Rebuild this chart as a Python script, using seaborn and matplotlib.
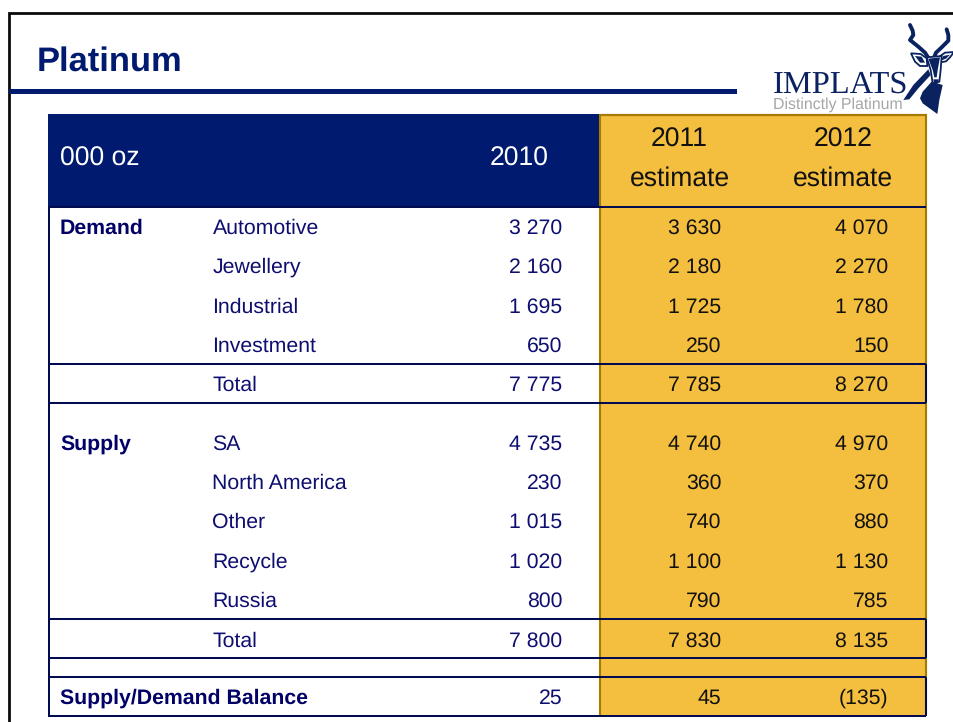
import matplotlib
matplotlib.use("Agg")
import matplotlib.pyplot as plt
from matplotlib.patches import Rectangle, Polygon
import seaborn as sns

# ---- data ----
title = "Platinum"
unit_label = "000 oz"
demand_labels = ["Automotive", "Jewellery", "Industrial", "Investment", "Total"]
demand_2010 = [3270, 2160, 1695, 650, 7775]
demand_2011 = [3630, 2180, 1725, 250, 7785]
demand_2012 = [4070, 2270, 1780, 150, 8270]
supply_labels = ["SA", "North America", "Other", "Recycle", "Russia", "Total"]
supply_2010 = [4735, 230, 1015, 1020, 800, 7800]
supply_2011 = [4740, 360, 740, 1100, 790, 7830]
supply_2012 = [4970, 370, 880, 1130, 785, 8135]
balance_label = "Supply/Demand Balance"
balance_values = [25, 45, -135]

# ---- style ----
NAVY = "#001A70"
LINE = "#000B50"
TEXT = "#0E0E70"
BOLD = "#000066"
GOLD = "#F4BE3E"
GOLD_EDGE = "#A67C00"
sns.set_theme(style="white")
plt.rcParams["font.family"] = ["Liberation Sans", "DejaVu Sans"]
plt.rcParams["text.hinting"] = "none"
plt.rcParams["text.hinting_factor"] = 8

fig = plt.figure(figsize=(9.54, 7.22), dpi=100)
ax = fig.add_axes([0, 0, 1, 1])
ax.set_xlim(0, 954)
ax.set_ylim(722, 0)
ax.axis("off")
sns.despine(ax=ax, left=True, bottom=True)


def fmt(v):
    s = f"{abs(v):,}".replace(",", " ")
    return f"({s})" if v < 0 else s


def hline(y, x0=48, x1=926, c=LINE, lw=1.45):
    ax.plot([x0, x1], [y, y], color=c, lw=lw, solid_capstyle="butt", zorder=4)


def vline(x, y0, y1, c=LINE, lw=1.45):
    ax.plot([x, x], [y0, y1], color=c, lw=lw, solid_capstyle="butt", zorder=4)


# slide frame and title
ax.plot([8.7, 8.7, 954], [722, 13, 13], color="#0A0A0A", lw=2.0, solid_joinstyle="miter", zorder=2)
ax.add_patch(Rectangle((9, 89), 728, 5, fc=NAVY, ec="none", zorder=2))
ax.text(37, 70.7, title, fontsize=24.8, fontweight="bold", color=NAVY, ha="left", va="baseline")

# table backgrounds
ax.add_patch(Rectangle((48, 114), 552, 93, fc=NAVY, ec="none", zorder=1))
ax.add_patch(Rectangle((600, 115), 326, 601, fc=GOLD, ec="none", zorder=1))
vline(600, 114, 716, c=GOLD_EDGE, lw=1.5)
vline(926, 114, 716, c=GOLD_EDGE, lw=1.5)
hline(115, 600, 927, c=GOLD_EDGE, lw=1.6)

# header
BODY = 15.3
HEAD = 19.1
ax.text(60, 166, unit_label, fontsize=HEAD, color="white", va="baseline")
ax.text(548.5, 166, "2010", fontsize=HEAD, color="white", ha="right", va="baseline")
ax.text(679.5, 146.7, "2011", fontsize=HEAD, color="#111111", ha="center", va="baseline")
ax.text(679.5, 186, "estimate", fontsize=HEAD, color="#111111", ha="center", va="baseline")
ax.text(843, 146.7, "2012", fontsize=HEAD, color="#111111", ha="center", va="baseline")
ax.text(843, 186, "estimate", fontsize=HEAD, color="#111111", ha="center", va="baseline")

# rules
for y in (207, 364, 403, 619, 658, 677, 716):
    hline(y)
vline(48.7, 207, 716)
for y0, y1 in ((364, 403), (619, 658), (677, 716)):
    vline(926, y0, y1)

X_GROUP, X_LABEL, X_2010, X_2011, X_2012 = 60, 212.5, 562.5, 721.5, 888.5


def row(y, label, a, b, c):
    ax.text(X_LABEL, y, label, fontsize=BODY, color=TEXT, va="baseline")
    ax.text(X_2010, y, fmt(a), fontsize=BODY, color=TEXT, ha="right", va="baseline")
    ax.text(X_2011, y, fmt(b), fontsize=BODY, color="#111111", ha="right", va="baseline")
    ax.text(X_2012, y, fmt(c), fontsize=BODY, color="#111111", ha="right", va="baseline")


demand_y = [233.5, 272.5, 312.5, 351.5, 390.5]
supply_y = [449.5, 488.5, 527.5, 567.5, 606.5, 646.5]
balance_y = 703.5
for y, l, a, b, c in zip(demand_y, demand_labels, demand_2010, demand_2011, demand_2012):
    row(y, l, a, b, c)
for y, l, a, b, c in zip(supply_y, supply_labels, supply_2010, supply_2011, supply_2012):
    row(y, l, a, b, c)
ax.text(X_GROUP, demand_y[0], "Demand", fontsize=BODY, fontweight="bold", color=BOLD, va="baseline")
ax.text(X_GROUP, supply_y[0], "Supply", fontsize=BODY, fontweight="bold", color=BOLD, va="baseline")
ax.text(X_GROUP, balance_y, balance_label, fontsize=BODY, fontweight="bold", color=BOLD, va="baseline")
ax.text(X_2010, balance_y, fmt(balance_values[0]), fontsize=BODY, color=TEXT, ha="right", va="baseline")
ax.text(X_2011, balance_y, fmt(balance_values[1]), fontsize=BODY, color="#111111", ha="right", va="baseline")
ax.text(X_2012, balance_y, fmt(balance_values[2]), fontsize=BODY, color="#111111", ha="right", va="baseline")

# logo
LOGO = "#0B2260"
ax.text(773, 93, "IMPLATS", family="Liberation Serif", fontsize=23.4, color=LOGO, ha="left", va="baseline")
ax.text(773, 108.5, "Distinctly Platinum", fontsize=11.4, color="#A6A6A6", ha="left", va="baseline")


def z(pts):
    return [(900 + px / 3, 20 + py / 3) for px, py in pts]


def stroke(pts, lw=2.8):
    xs, ys = zip(*z(pts))
    ax.plot(xs, ys, color=LOGO, lw=lw, solid_joinstyle="round", solid_capstyle="round", zorder=5)


def blob(pts, fc=LOGO, ec="none", lw=0.8):
    ax.add_patch(Polygon(z(pts), closed=True, fc=fc, ec=ec, lw=lw, zorder=5))


stroke([(30, 15), (38, 32), (40, 45), (30, 60), (55, 80), (75, 98), (88, 118)])
stroke([(140, 28), (145, 45), (145, 62), (125, 82), (108, 98), (100, 118)])
blob([(10, 240), (40, 195), (85, 148), (92, 165), (55, 205), (28, 238)])
blob([(95, 185), (68, 215), (60, 235), (68, 250), (112, 282), (118, 240), (128, 195)])
blob([(33, 100), (62, 102), (80, 115), (82, 138), (60, 138), (45, 125)], fc="white", ec=LOGO, lw=1.3)
blob([(45, 108), (65, 110), (75, 128), (60, 128)], fc=LOGO)
blob([(162, 96), (135, 98), (115, 112), (116, 128), (138, 124), (150, 112)], fc="white", ec=LOGO, lw=1.3)
blob([(150, 104), (130, 108), (122, 122), (138, 116)], fc=LOGO)
blob([(80, 112), (125, 108), (122, 150), (118, 185), (98, 190), (92, 150)], fc="white", ec=LOGO, lw=1.3)
blob([(85, 116), (120, 112), (113, 150), (110, 172), (103, 172), (98, 150)], fc=LOGO)
blob([(100, 178), (116, 178), (114, 190), (102, 190)], fc=LOGO)

fig.savefig("out.png", dpi=100, facecolor="white")
